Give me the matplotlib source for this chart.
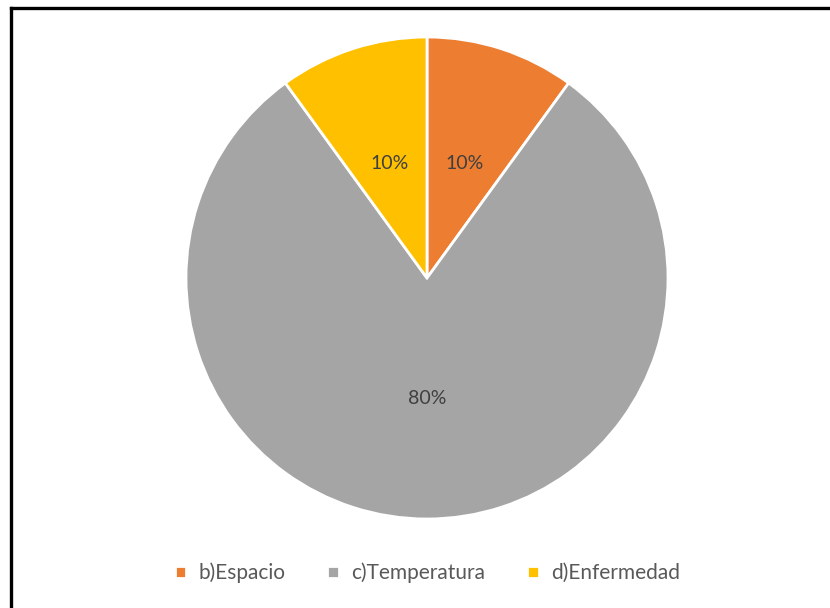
import matplotlib
matplotlib.use("Agg")
import matplotlib.pyplot as plt
from matplotlib.lines import Line2D

categories = ["b)Espacio", "c)Temperatura", "d)Enfermedad"]
values = [10, 80, 10]
colors = ["#ED7D31", "#A5A5A5", "#FFC000"]

plt.rcParams['font.family'] = ['Lato', 'DejaVu Sans']

W, H = 830, 608
fig = plt.figure(figsize=(W/100, H/100), dpi=100)
fig.patch.set_facecolor("white")

cx, cy, r = 427, 278, 241
ax = fig.add_axes([(cx - r)/W, (H - cy - r)/H, 2*r/W, 2*r/H])
wedges, texts, autotexts = ax.pie(
    values, colors=colors, startangle=90, counterclock=False,
    autopct=lambda p: f"{p:.0f}%", pctdistance=0.5, radius=1,
    wedgeprops=dict(edgecolor="white", linewidth=2),
    textprops=dict(color="#404040", fontsize=14))
ax.set_xlim(-1, 1)
ax.set_ylim(-1, 1)
ax.set_aspect("equal")
ax.axis("off")

leg = fig.legend(wedges, categories, loc="center", bbox_to_anchor=(0.515, 1 - 573/H),
                 ncol=3, frameon=False, fontsize=15, handlelength=0.55, handleheight=0.55,
                 handletextpad=0.6, columnspacing=2.0, labelcolor="#595959")

# frame lines (left and top)
fig.add_artist(Line2D([11/W, 11/W], [0, 1 - 8/H], transform=fig.transFigure,
                      color="black", linewidth=2.4, solid_capstyle="projecting"))
fig.add_artist(Line2D([11/W, 1], [1 - 8/H, 1 - 8/H], transform=fig.transFigure,
                      color="black", linewidth=2.4, solid_capstyle="projecting"))

fig.savefig("out.png", dpi=100, facecolor="white")
